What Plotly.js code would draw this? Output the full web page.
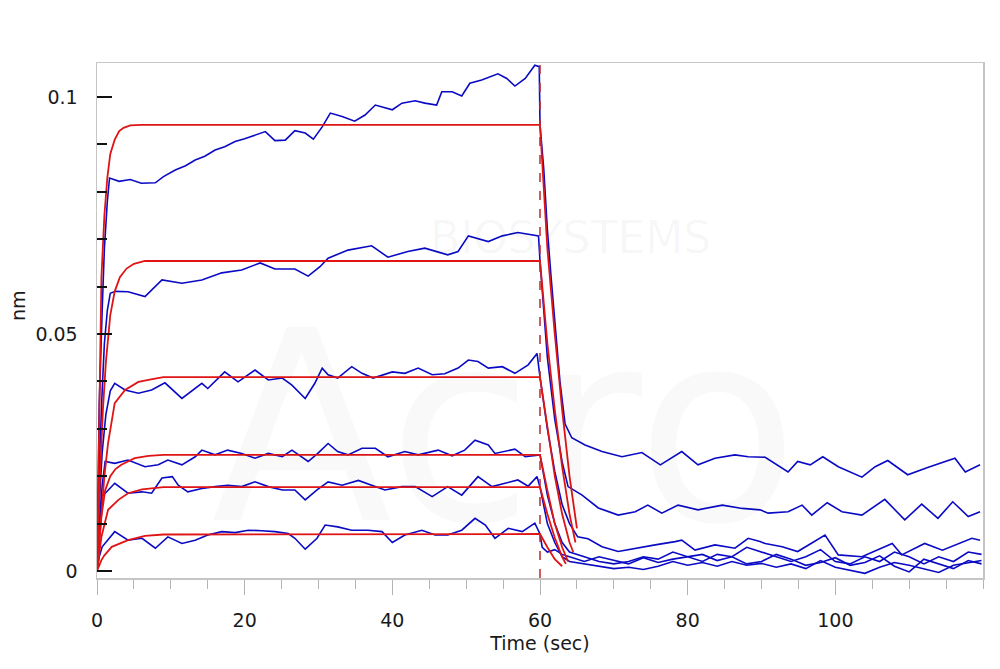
<!DOCTYPE html>
<html>
<head>
<meta charset="utf-8">
<script src="https://cdn.plot.ly/plotly-3.0.1.min.js"></script>
<style>html,body{margin:0;padding:0;background:#fff;}#chart{width:1000px;height:669px;}</style>
</head>
<body>
<div id="chart"></div>
<script>
// ---- data (time in sec, response in nm) ----
const dissociationStart = 60;

const sensor1Time = [0, 0.3, 0.7, 1.0, 1.4, 1.7, 3.0, 4.5, 6.0, 7.9, 9.0, 10.6, 12.0, 13.3, 14.6, 16.0, 17.3, 18.7, 20.0, 21.4, 22.8, 24.1, 25.5, 26.8, 28.2, 29.3, 30.5, 31.6, 33.2, 34.9, 36.3, 37.7, 40.0, 41.3, 43.1, 44.4, 46.0, 46.7, 48.1, 49.4, 50.5, 52.1, 54.3, 55.5, 56.6, 58.0, 59.3, 59.9,
  60.0, 60.5, 61.0, 61.5, 62.0, 62.7, 63.4, 64.3, 66.1, 68.4, 71.1, 73.8, 76.3, 79.2, 81.4, 83.7, 86.4, 88.2, 90.5, 93.6, 94.9, 96.6, 98.3, 100.4, 103.6, 105.4, 107.1, 109.8, 112.6, 116.2, 117.6, 119.6];
const sensor1Nm = [0, 0.035, 0.055, 0.068, 0.078, 0.0829, 0.0822, 0.0826, 0.0818, 0.0819, 0.0832, 0.0846, 0.0855, 0.0867, 0.0875, 0.0888, 0.0895, 0.0906, 0.0912, 0.0920, 0.0927, 0.0908, 0.0909, 0.0929, 0.0924, 0.0911, 0.0937, 0.0966, 0.0959, 0.0949, 0.0962, 0.0983, 0.0973, 0.0987, 0.0992, 0.0987, 0.0983, 0.1011, 0.1011, 0.1002, 0.1029, 0.1036, 0.1049, 0.1039, 0.1023, 0.1039, 0.1067, 0.1064,
  0.094, 0.085, 0.072, 0.062, 0.052, 0.040, 0.031, 0.0281, 0.0266, 0.0252, 0.0241, 0.0250, 0.0224, 0.0252, 0.0224, 0.0238, 0.0245, 0.0241, 0.0240, 0.0209, 0.0231, 0.0224, 0.0241, 0.0220, 0.0198, 0.0220, 0.0233, 0.0203, 0.0219, 0.0238, 0.0209, 0.0224];

const sensor2Time = [0, 0.3, 0.7, 1.0, 1.4, 1.8, 2.5, 4.2, 6.5, 8.8, 11.5, 14.2, 16.9, 19.6, 22.1, 24.1, 26.8, 28.6, 30.2, 31.3, 34.0, 37.2, 39.4, 42.1, 44.4, 47.5, 48.9, 50.3, 53.0, 54.9, 57.0, 58.9, 59.8,
  60.0, 61.0, 62.0, 63.0, 63.8, 65.7, 67.9, 70.6, 72.9, 74.6, 76.5, 78.7, 81.4, 84.7, 87.4, 89.8, 90.9, 93.6, 95.5, 96.8, 98.9, 100.9, 103.6, 106.7, 109.4, 111.7, 113.9, 115.9, 118.0, 119.6];
const sensor2Nm = [0, 0.022, 0.038, 0.048, 0.055, 0.0586, 0.0590, 0.0589, 0.0579, 0.0614, 0.0607, 0.0614, 0.0629, 0.0635, 0.0650, 0.0637, 0.0637, 0.0622, 0.0642, 0.0660, 0.0677, 0.0686, 0.0662, 0.0674, 0.0681, 0.0667, 0.0674, 0.0707, 0.0695, 0.0707, 0.0714, 0.0709, 0.0707,
  0.0654, 0.045, 0.032, 0.023, 0.0178, 0.0160, 0.0133, 0.0118, 0.0125, 0.0139, 0.0122, 0.0139, 0.0129, 0.0139, 0.0132, 0.0129, 0.0122, 0.0125, 0.0139, 0.0118, 0.0144, 0.0125, 0.0118, 0.0151, 0.0108, 0.0141, 0.0111, 0.0146, 0.0115, 0.0125];

const sensor3Time = [0, 0.3, 0.7, 1.2, 1.8, 2.4, 3.8, 5.6, 7.4, 9.2, 11.5, 14.2, 15.0, 17.3, 19.1, 21.4, 23.2, 25.1, 26.4, 28.2, 29.5, 30.5, 31.3, 32.6, 34.5, 35.9, 37.4, 40.0, 41.7, 43.5, 45.4, 47.1, 48.9, 50.3, 51.6, 53.0, 54.9, 56.6, 58.4, 59.6,
  60.0, 61.0, 62.0, 63.0, 64.0, 65.1, 66.5, 68.4, 70.6, 72.9, 75.6, 78.3, 79.2, 81.0, 83.7, 86.4, 88.2, 89.8, 90.5, 92.8, 94.9, 98.6, 100.4, 103.6, 107.7, 109.0, 112.1, 114.5, 116.2, 118.5, 119.6];
const sensor3Nm = [0, 0.014, 0.025, 0.033, 0.038, 0.0396, 0.0382, 0.0375, 0.0382, 0.0397, 0.0364, 0.0396, 0.0385, 0.0420, 0.0399, 0.0424, 0.0403, 0.0407, 0.0392, 0.0364, 0.0396, 0.0428, 0.0414, 0.0407, 0.0431, 0.0417, 0.0407, 0.0420, 0.0417, 0.0428, 0.0414, 0.0416, 0.0428, 0.0445, 0.0442, 0.0428, 0.0431, 0.0417, 0.0435, 0.0459,
  0.0409, 0.030, 0.021, 0.014, 0.010, 0.0072, 0.0068, 0.0051, 0.0041, 0.0048, 0.0055, 0.0062, 0.0065, 0.0044, 0.0055, 0.0048, 0.0069, 0.0062, 0.0058, 0.0051, 0.0041, 0.0076, 0.0034, 0.0030, 0.0058, 0.0034, 0.0058, 0.0044, 0.0055, 0.0069, 0.0065];

const sensor4Time = [0, 0.3, 0.7, 1.1, 2.4, 4.2, 6.5, 8.3, 9.6, 11.5, 13.3, 14.2, 16.0, 17.7, 19.6, 21.4, 23.2, 25.1, 26.4, 28.6, 29.9, 31.3, 32.6, 34.0, 35.9, 37.7, 39.4, 41.7, 43.5, 46.2, 48.1, 49.8, 51.2, 53.0, 53.9, 56.6, 58.0, 59.6,
  60.0, 61.0, 62.0, 63.0, 64.0, 66.0, 68.0, 70.0, 72.0, 74.0, 76.0, 78.0, 80.0, 82.0, 84.0, 86.0, 88.0, 90.0, 92.0, 94.0, 96.0, 98.0, 100.0, 102.0, 104.0, 106.0, 108.0, 110.0, 112.0, 114.0, 116.0, 118.0, 119.8];
const sensor4Nm = [0, 0.010, 0.018, 0.0231, 0.0227, 0.0234, 0.0220, 0.0224, 0.0234, 0.0224, 0.0241, 0.0255, 0.0245, 0.0255, 0.0248, 0.0238, 0.0248, 0.0241, 0.0255, 0.0231, 0.0248, 0.0269, 0.0252, 0.0245, 0.0259, 0.0259, 0.0241, 0.0252, 0.0245, 0.0255, 0.0243, 0.0255, 0.0276, 0.0266, 0.0248, 0.0257, 0.0241, 0.0243,
  0.0245, 0.016, 0.010, 0.006, 0.004, 0.003, 0.002, 0.0015, 0.002, 0.003, 0.0025, 0.004, 0.003, 0.002, 0.0035, 0.003, 0.005, 0.004, 0.003, 0.002, 0.003, 0.0045, 0.002, 0.0015, 0.003, 0.002, 0.004, 0.003, 0.0015, 0.003, 0.002, 0.004, 0.0035];

const sensor5Time = [0, 0.3, 0.7, 2.4, 4.2, 6.1, 7.4, 8.8, 10.2, 11.0, 12.3, 14.2, 16.0, 17.7, 19.6, 21.4, 23.2, 25.1, 26.8, 28.2, 29.8, 31.3, 33.2, 35.4, 37.2, 39.0, 41.3, 43.1, 45.4, 47.5, 49.4, 51.6, 53.5, 55.3, 57.0, 58.4, 59.6,
  60.0, 61.0, 62.0, 63.0, 64.0, 66.0, 68.0, 70.0, 72.0, 74.0, 76.0, 78.0, 80.0, 82.0, 84.0, 86.0, 88.0, 90.0, 92.0, 94.0, 96.0, 98.0, 100.0, 102.0, 104.0, 106.0, 108.0, 110.0, 112.0, 114.0, 116.0, 118.0, 119.8];
const sensor5Nm = [0, 0.008, 0.0157, 0.0185, 0.0164, 0.0167, 0.0164, 0.0196, 0.0199, 0.0181, 0.0167, 0.0174, 0.0178, 0.0181, 0.0178, 0.0188, 0.0178, 0.0171, 0.0171, 0.0150, 0.0171, 0.0188, 0.0181, 0.0191, 0.0181, 0.0171, 0.0178, 0.0178, 0.0157, 0.0178, 0.0160, 0.0199, 0.0178, 0.0185, 0.0192, 0.0179, 0.0199,
  0.0177, 0.010, 0.006, 0.003, 0.002, 0.0015, 0.001, 0.0005, 0.0008, 0.0003, 0.001, 0.002, 0.0012, 0.0018, 0.001, 0.002, 0.0012, 0.0016, 0.0008, 0.0015, 0.0005, 0.0022, 0.0008, 0.0002, -0.0005, 0.0008, 0.0018, 0.0012, 0.0005, -0.0003, 0.0012, 0.0018, 0.0022];

const sensor6Time = [0, 0.3, 0.7, 2.4, 4.2, 6.1, 7.9, 9.6, 11.5, 13.3, 15.0, 16.9, 18.7, 20.5, 22.3, 24.1, 25.9, 26.8, 28.2, 29.8, 30.9, 32.6, 34.5, 36.7, 38.6, 40.0, 41.7, 44.0, 45.8, 47.5, 49.4, 51.2, 52.6, 53.9, 55.7, 57.6, 59.3,
  60.0, 60.3, 61.0, 62.0, 63.0, 64.0, 66.0, 68.0, 70.0, 72.0, 74.0, 76.0, 78.0, 80.0, 82.0, 84.0, 86.0, 88.0, 90.0, 92.0, 94.0, 96.0, 98.0, 100.0, 102.0, 104.0, 106.0, 108.0, 110.0, 112.0, 114.0, 116.0, 118.0, 119.8];
const sensor6Nm = [0, 0.003, 0.0051, 0.0083, 0.0065, 0.0069, 0.0048, 0.0072, 0.0058, 0.0065, 0.0076, 0.0083, 0.0081, 0.0086, 0.0085, 0.0083, 0.0079, 0.0069, 0.0046, 0.0069, 0.0097, 0.0093, 0.0086, 0.0086, 0.0083, 0.0060, 0.0076, 0.0086, 0.0076, 0.0076, 0.0086, 0.0111, 0.0097, 0.0069, 0.0090, 0.0083, 0.0101,
  0.0078, 0.005, 0.004, 0.0045, 0.0035, 0.003, 0.002, 0.003, 0.0022, 0.0015, 0.0028, 0.0018, 0.0025, 0.003, 0.0035, 0.0022, 0.003, 0.0015, 0.002, 0.0035, 0.0025, 0.0012, 0.0018, 0.0028, 0.0012, 0.0018, 0.0032, 0.001, -0.0002, 0.0025, 0.0015, 0.0005, 0.0022, 0.0015];

// fitted curves
const fit1Time = [0, 0.3, 0.6, 1.0, 1.4, 1.8, 2.4, 3.0, 3.6, 4.5, 6.0, 60.0, 60.5, 61.0, 62.0, 63.0, 64.0, 65.0];
const fit1Nm   = [0, 0.034, 0.062, 0.075, 0.083, 0.088, 0.091, 0.0928, 0.0935, 0.094, 0.0941, 0.0941, 0.080, 0.068, 0.050, 0.034, 0.020, 0.009];
const fit2Time = [0, 0.4, 0.8, 1.2, 1.8, 2.4, 3.1, 4.0, 5.0, 6.5, 60.0, 61.0, 62.0, 63.0, 64.0, 64.8];
const fit2Nm   = [0, 0.020, 0.034, 0.044, 0.054, 0.059, 0.062, 0.0638, 0.0648, 0.0654, 0.0654, 0.048, 0.034, 0.022, 0.012, 0.006];
const fit3Time = [0, 0.5, 1.0, 1.5, 2.4, 3.8, 5.6, 7.5, 9.0, 60.0, 61.0, 62.0, 63.0, 64.0, 64.5];
const fit3Nm   = [0, 0.011, 0.020, 0.027, 0.0354, 0.0382, 0.0399, 0.0405, 0.0409, 0.0409, 0.030, 0.020, 0.012, 0.006, 0.004];
const fit4Time = [0, 0.3, 0.6, 1.1, 1.8, 2.5, 3.3, 5.1, 7.0, 9.0, 60.0, 61.0, 62.0, 63.0, 63.8];
const fit4Nm   = [0, 0.006, 0.0115, 0.017, 0.0200, 0.0215, 0.0224, 0.0238, 0.0243, 0.0245, 0.0245, 0.017, 0.010, 0.005, 0.002];
const fit5Time = [0, 0.6, 1.5, 2.9, 4.2, 6.1, 9.0, 60.0, 61.0, 62.0, 63.0, 63.5];
const fit5Nm   = [0, 0.0072, 0.0129, 0.0150, 0.0164, 0.0172, 0.0177, 0.0177, 0.012, 0.007, 0.003, 0.0015];
const fit6Time = [0, 0.6, 1.0, 2.0, 4.2, 6.5, 9.0, 60.0, 61.0, 62.0, 63.0];
const fit6Nm   = [0, 0.0023, 0.0033, 0.0051, 0.0065, 0.0074, 0.0077, 0.0078, 0.005, 0.0025, 0.001];

const xTickValues = [0, 20, 40, 60, 80, 100];
const yTickValues = [0, 0.05, 0.1];
const yTickLabels = ['0', '0.05', '0.1'];

// ---- drawing ----
const BLUE = '#0a0ac4';
const RED = '#e01414';
const sensors = [
  [sensor1Time, sensor1Nm], [sensor2Time, sensor2Nm], [sensor3Time, sensor3Nm],
  [sensor4Time, sensor4Nm], [sensor5Time, sensor5Nm], [sensor6Time, sensor6Nm]
];
const fits = [
  [fit1Time, fit1Nm], [fit2Time, fit2Nm], [fit3Time, fit3Nm],
  [fit4Time, fit4Nm], [fit5Time, fit5Nm], [fit6Time, fit6Nm]
];
const traces = [];
sensors.forEach(([t, v]) => traces.push({
  x: t, y: v, type: 'scatter', mode: 'lines',
  line: {color: BLUE, width: 1.6}, hoverinfo: 'skip'
}));
fits.forEach(([t, v]) => traces.push({
  x: t, y: v, type: 'scatter', mode: 'lines',
  line: {color: RED, width: 1.8}, hoverinfo: 'skip'
}));

const FONT = 'DejaVu Sans, Arial, sans-serif';
const layout = {
  width: 1000, height: 669,
  margin: {l: 97, r: 17, t: 63, b: 91},
  paper_bgcolor: '#ffffff', plot_bgcolor: '#ffffff',
  showlegend: false,
  font: {family: FONT, size: 19, color: '#1a1a1a'},
  xaxis: {
    range: [0, 120], showgrid: false, zeroline: false,
    showline: true, mirror: true, linecolor: '#c6c6c6', linewidth: 1.5,
    tickmode: 'array', tickvals: xTickValues,
    ticks: 'outside', ticklen: 15, tickwidth: 1, tickcolor: '#b4b4b4',
    ticklabelstandoff: 10,
    minor: {dtick: 5, ticks: 'outside', ticklen: 9, tickcolor: '#b4b4b4', showgrid: false},
    title: {text: 'Time (sec)', font: {family: FONT, size: 19, color: '#1a1a1a'}, standoff: 6}
  },
  yaxis: {
    range: [-0.00148, 0.10717], showgrid: false, zeroline: false,
    showline: true, mirror: true, linecolor: '#c6c6c6', linewidth: 1.5,
    tickmode: 'array', tickvals: yTickValues, ticktext: yTickLabels,
    ticks: 'inside', ticklen: 15, tickwidth: 2, tickcolor: '#111111',
    ticklabelstandoff: 14,
    minor: {dtick: 0.01, ticks: 'inside', ticklen: 10, tickwidth: 2, tickcolor: '#111111', showgrid: false}
  },
  shapes: [{
    type: 'line', xref: 'x', yref: 'paper', x0: dissociationStart, x1: dissociationStart, y0: 0, y1: 1,
    line: {color: '#c0282a', width: 1.5, dash: 'dash'}, layer: 'above'
  }],
  annotations: [
    {text: 'nm', xref: 'paper', yref: 'paper', x: (18 - 97) / 886, y: (578 - 306) / 515,
     showarrow: false, textangle: -90, font: {family: FONT, size: 19, color: '#1a1a1a'},
     xanchor: 'center', yanchor: 'middle'},
    {text: 'Acro', xref: 'paper', yref: 'paper', x: (505 - 97) / 886, y: (578 - 428) / 515,
     showarrow: false, font: {family: 'DejaVu Sans, sans-serif', size: 265, color: 'rgba(0,0,0,0.022)'},
     xanchor: 'center', yanchor: 'middle'},
    {text: 'BIOSYSTEMS', xref: 'paper', yref: 'paper', x: (570 - 97) / 886, y: (578 - 238) / 515,
     showarrow: false, font: {family: 'DejaVu Sans, sans-serif', size: 44, color: 'rgba(0,0,0,0.035)'},
     xanchor: 'center', yanchor: 'middle'}
  ]
};

Plotly.newPlot('chart', traces, layout, {displayModeBar: false, staticPlot: true});
</script>
</body>
</html>
